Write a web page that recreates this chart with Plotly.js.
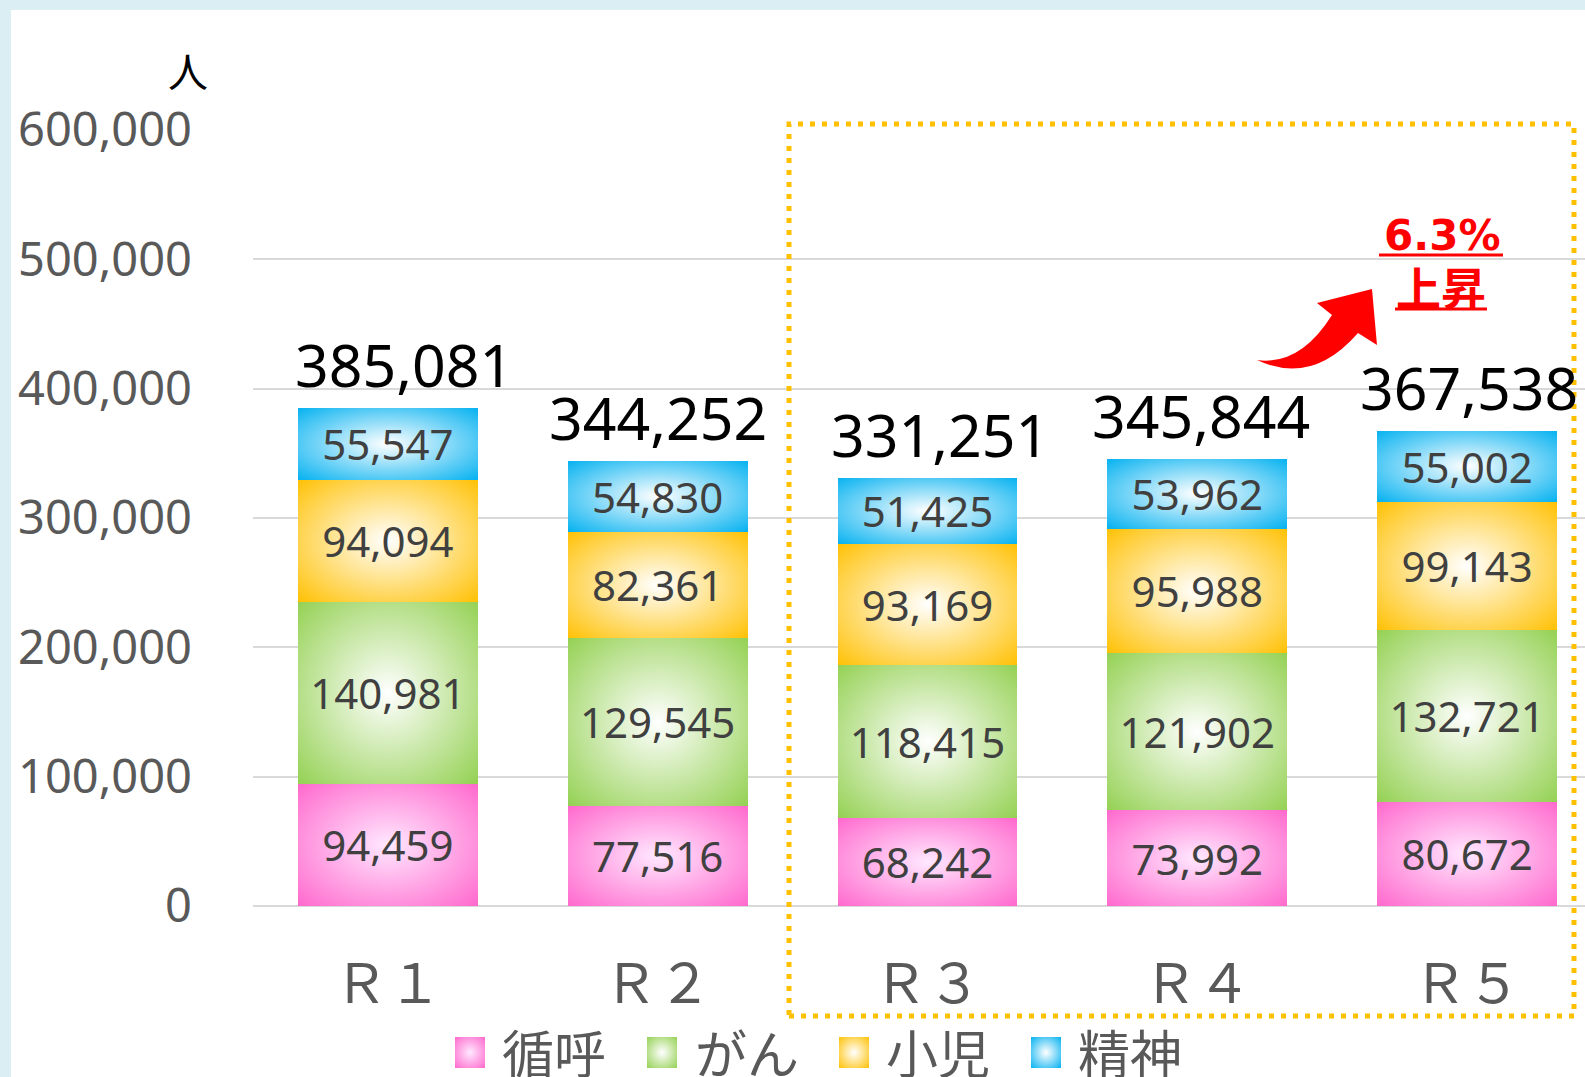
<!DOCTYPE html>
<html><head><meta charset="utf-8">
<script src="https://cdn.plot.ly/plotly-3.0.1.min.js"></script>
<style>
body{margin:0;background:#DAEEF3;width:1585px;height:1077px;overflow:hidden}
#chart{position:absolute;left:11px;top:10px;width:1574px;height:1067px;background:#fff}
</style>
</head><body><div id="chart"></div><script>
const categories = ['Ｒ１','Ｒ２','Ｒ３','Ｒ４','Ｒ５'];
const seriesNames = ['循呼','がん','小児','精神'];
const junko   = [94459, 77516, 68242, 73992, 80672];
const gan     = [140981,129545,118415,121902,132721];
const shoni   = [94094, 82361, 93169, 95988, 99143];
const seishin = [55547, 54830, 51425, 53962, 55002];
const rateText = '6.3%';
const rateLabel = '上昇';
const unitLabel = '人';

const seriesValues = [junko, gan, shoni, seishin];
const colors = ['#FF66CC','#92D050','#FFC000','#00B0F0'];
const centerColors = ['#FFE8FF','#FFFFFF','#FFFFFF','#FFFFFF'];
const totalShift = [16, 0, 12, 4, 2];

// pixel helpers (full-image coordinates -> paper)
const PL=253, PR=1585, PT=130, PB=906;
const px = X => (X-PL)/(PR-PL);
const py = Y => (PB-Y)/(PB-PT);

const traces = seriesValues.map((vals,i)=>({
  type:'bar', name:seriesNames[i], x:categories, y:vals,
  marker:{color:colors[i], line:{width:0}},
  texttemplate:'%{y:,d}', textposition:'inside', insidetextanchor:'middle',
  textfont:{family:'Noto Sans', size:42, color:'#404040'},
  constraintext:'none', hoverinfo:'skip', showlegend:false
}));

const totals = categories.map((c,k)=>seriesValues.reduce((s,v)=>s+v[k],0));

const annotations = [];
totals.forEach((t,k)=>annotations.push({
  x:categories[k], y:t, xref:'x', yref:'y', text:t.toLocaleString('en-US'),
  showarrow:false, yanchor:'bottom', yshift:2, xshift:totalShift[k],
  font:{family:'Noto Sans', size:59, color:'#000000'}
}));
annotations.push({x:px(188), y:py(70), xref:'paper', yref:'paper', text:unitLabel,
  showarrow:false, xanchor:'center', yanchor:'middle',
  font:{family:'Noto Sans CJK JP', size:40, color:'#000000'}});
annotations.push({x:px(1442), y:py(236), xref:'paper', yref:'paper', text:'<b>'+rateText+'</b>',
  showarrow:false, xanchor:'center', yanchor:'middle',
  font:{family:'DejaVu Sans', size:42, color:'#FF0000'}});
annotations.push({x:px(1441), y:py(286), xref:'paper', yref:'paper', text:'<b>'+rateLabel+'</b>',
  showarrow:false, xanchor:'center', yanchor:'middle',
  font:{family:'Noto Sans CJK JP', size:45, color:'#FF0000'}});

const legSqX = [455, 647, 839, 1031];
const legTxX = [500, 693, 884, 1076];
const shapes = [];
seriesNames.forEach((n,i)=>{
  shapes.push({type:'rect', xref:'paper', yref:'paper', x0:px(legSqX[i]), x1:px(legSqX[i]+30),
    y0:py(1068), y1:py(1037), fillcolor:colors[i], line:{width:0}});
  annotations.push({x:px(legTxX[i]), y:py(1051), xref:'paper', yref:'paper', text:n,
    showarrow:false, xanchor:'left', yanchor:'middle',
    font:{family:'Noto Sans CJK JP', size:52, color:'#595959'}});
});
// dotted highlight box
shapes.push({type:'rect', xref:'paper', yref:'paper', x0:px(789), x1:px(1574), y0:py(1016), y1:py(124),
  line:{color:'#FFC000', width:5, dash:'5px,7px'}, fillcolor:'rgba(0,0,0,0)', layer:'above'});
// underlines
shapes.push({type:'line', xref:'paper', yref:'paper', x0:px(1379), x1:px(1503), y0:py(255), y1:py(255), line:{color:'#FF0000', width:3}});
shapes.push({type:'line', xref:'paper', yref:'paper', x0:px(1395), x1:px(1487), y0:py(309), y1:py(309), line:{color:'#FF0000', width:3}});
// curved arrow
const P = (x,y)=>px(x).toFixed(5)+','+py(y).toFixed(5);
const arrowPath = 'M'+P(1257,360)+' Q'+P(1300,366)+' '+P(1332,315)+' L'+P(1317,303)+' L'+P(1372,289)+' L'+P(1377,345)+' L'+P(1358,333)+' Q'+P(1312,386)+' '+P(1257,360)+' Z';
shapes.push({type:'path', xref:'paper', yref:'paper', path:arrowPath, fillcolor:'#FF0000', line:{width:0}});

const layout = {
  width:1574, height:1067,
  margin:{l:PL-11, r:0, t:PT-10, b:1067-(PB-10)},
  paper_bgcolor:'#FFFFFF', plot_bgcolor:'#FFFFFF',
  barmode:'stack', bargap:0.333,
  showlegend:false,
  xaxis:{type:'category', range:[-0.5, 4.437], showgrid:false, zeroline:false, showline:false, ticks:'',
    tickfont:{family:'Noto Sans CJK JP', size:54, color:'#595959'}, ticklabelstandoff:42, fixedrange:true},
  yaxis:{range:[0,600000], dtick:100000, tickformat:',d', showgrid:true, gridcolor:'#D9D9D9', gridwidth:2,
    zeroline:true, zerolinecolor:'#D9D9D9', zerolinewidth:2, showline:false, ticks:'',
    tickfont:{family:'Noto Sans', size:47, color:'#595959'}, ticklabelstandoff:60, fixedrange:true},
  annotations:annotations, shapes:shapes
};

Plotly.newPlot('chart', traces, layout, {displayModeBar:false, staticPlot:true}).then(()=>{
  const NS='http://www.w3.org/2000/svg';
  const svg=document.querySelector('#chart .main-svg');
  let defs=document.createElementNS(NS,'defs');
  svg.insertBefore(defs, svg.firstChild);
  colors.forEach((c,i)=>{
    const g=document.createElementNS(NS,'radialGradient');
    g.setAttribute('id','rg'+i); g.setAttribute('cx','0.5'); g.setAttribute('cy','0.5'); g.setAttribute('r','0.72');
    [[0,centerColors[i]],[1,c]].forEach(([o,col])=>{
      const s=document.createElementNS(NS,'stop'); s.setAttribute('offset',o); s.setAttribute('stop-color',col); g.appendChild(s);
    });
    defs.appendChild(g);
  });
  document.querySelectorAll('#chart .barlayer .trace').forEach((tr,i)=>{
    tr.querySelectorAll('.point path').forEach(p=>{p.style.fill='url(#rg'+i+')';});
  });
  for(let i=0;i<4;i++){
    const p=document.querySelector('#chart .shapelayer path[data-index="'+i+'"]');
    if(p) p.style.fill='url(#rg'+i+')';
  }
});
</script></body></html>
